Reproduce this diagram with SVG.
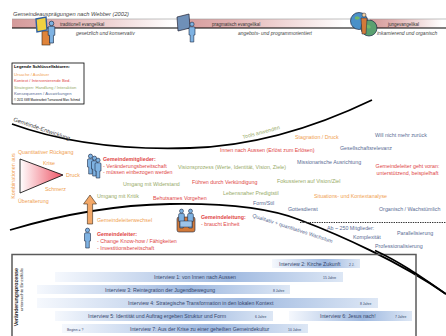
<svg xmlns="http://www.w3.org/2000/svg" width="446" height="336" viewBox="0 0 446 336">
<defs>
<style>
text{font-family:"Liberation Sans",Arial,sans-serif;}
.m{font-size:5.3px}
.o{fill:#f0a050}.r{fill:#e04646}.g{fill:#98ab68}.b{fill:#5a6c94}
.bd{font-weight:bold}
.it{font-style:italic;fill:#444}
.band{font-size:4.5px;fill:#333}
.lg{font-size:4.2px}
.iv{font-size:5.2px;fill:#34456b}
.yr{font-size:3.4px;fill:#34456b}
.bar{fill:url(#barG)}
.curve{fill:none;stroke:#000;stroke-width:1.8}
.pers{fill:#7eb2e2;stroke:#1c2a44;stroke-width:0.6}
</style>
<linearGradient id="barG" x1="0" y1="0" x2="1" y2="0">
<stop offset="0" stop-color="#f5f8fd"/><stop offset="0.6" stop-color="#9fb9e0"/><stop offset="1" stop-color="#dde7f5"/>
</linearGradient>
<linearGradient id="bandG" x1="0" y1="0" x2="1" y2="0">
<stop offset="0" stop-color="#d49a9a"/><stop offset="0.3" stop-color="#e2b2b2"/><stop offset="0.95" stop-color="#ffffff"/>
</linearGradient>
<linearGradient id="triG" x1="0" y1="0" x2="1" y2="0">
<stop offset="0" stop-color="#ffffff"/><stop offset="1" stop-color="#ee5566"/>
</linearGradient>
<g id="pp">
<circle cx="0" cy="2.2" r="2.1"/>
<path d="M-3,6 Q-3,4.8 -1.8,4.8 L1.8,4.8 Q3,4.8 3,6 L3,13 L1.8,13 L1.8,20 L-1.8,20 L-1.8,13 L-3,13 Z"/>
</g>
</defs>
<rect width="446" height="336" fill="#fff"/>

<!-- top band -->
<g id="band">
<text x="13" y="16" class="it" font-size="5.7">Gemeindeausprägungen nach Webber (2002)</text>
<rect x="12" y="19" width="168" height="9" fill="url(#bandG)"/>
<rect x="178" y="19" width="175" height="9" fill="url(#bandG)"/>
<rect x="370" y="19" width="76" height="9" fill="url(#bandG)"/>
<line x1="12" y1="19" x2="446" y2="19" stroke="#999" stroke-width="0.6"/>
<line x1="12" y1="28" x2="446" y2="28" stroke="#000" stroke-width="1.1"/>
<text x="60" y="25.5" class="band">traditionell evangelikal</text>
<text x="76" y="35" class="it" font-size="5">gesetzlich und konservativ</text>
<text x="212" y="25.5" class="band">pragmatisch evangelikal</text>
<text x="238" y="35" class="it" font-size="4.9">angebots- und programmorientiert</text>
<text x="388" y="25.5" class="band">jungevangelikal</text>
<text x="377" y="35" class="it" font-size="5">inkarnierend und organisch</text>
</g>
<g id="icon-traditionell">
<rect x="42" y="31" width="8" height="14" fill="#e0843a" stroke="#3a2a1a" stroke-width="0.6"/>
<polygon points="36,19 46,17 47,30 37,32" fill="#f0d040" stroke="#2f5fa0" stroke-width="1.4"/>
<use href="#pp" x="0" y="0" transform="translate(51.5,21) scale(1.1)" class="pers"/>
</g>
<g id="icon-pragmatisch">
<polygon points="177,17 189,14 190,28 178,31" fill="#6f90b8" stroke="#223" stroke-width="0.7"/>
<use href="#pp" transform="translate(192,22)" class="pers"/>
</g>
<g id="icon-jung">
<circle cx="359" cy="21" r="8.5" fill="#4a90c8" stroke="#1c2a44" stroke-width="0.7"/>
<circle cx="369" cy="28" r="8" fill="#5aa070" stroke="#1c2a44" stroke-width="0.7"/>
<path d="M355,17 q3,-2 5,1 q-2,3 -5,1z M366,25 q3,-1 5,2 q-2,3 -5,0z" fill="#6fb86a"/>
<circle cx="364" cy="15" r="2" fill="#f5d0a0" stroke="#1c2a44" stroke-width="0.5"/>
<path d="M361,18 h6 l-1,16 h-4 z" fill="#d27a3a" stroke="#1c2a44" stroke-width="0.5"/>
</g>

<!-- legend -->
<g id="legend">
<rect x="12" y="63" width="72" height="41" fill="#fff" stroke="#000" stroke-width="0.8"/>
<text x="14" y="68.3" class="lg bd" fill="#000">Legende Schlüsselfaktoren:</text>
<text x="14" y="75.5" class="lg o">Ursache / Auslöser</text>
<text x="14" y="82" class="lg r">Kontext / Intervenierende Bed.</text>
<text x="14" y="89" class="lg g">Strategien: Handlung / Interaktion</text>
<text x="14" y="95" class="lg b">Konsequenzen / Auswirkungen</text>
<text x="14" y="101.3" font-size="2.9" fill="#000">© 2011 IGW Masterarbeit Turnaround Marc Schmid</text>
</g>

<!-- curves -->
<g id="connectors">
<path class="curve" d="M12,124 C70,145 130,150 190,148 C260,146 320,125 372,100"/>
<path class="curve" d="M10,230 C60,215 110,205 170,204 C230,203 270,208 300,220 C340,235 400,262 446,294"/>
<line x1="300" y1="222.5" x2="446" y2="222.5" stroke="#333" stroke-width="1" stroke-dasharray="1.4,1"/>
</g>
<text transform="translate(13,121) rotate(19)" font-size="5.8" fill="#444">Gemeinde-Entwicklung</text>
<text transform="translate(243,139) rotate(-15)" class="m g">Tools anwenden</text>
<text transform="translate(252,217) rotate(18)" class="m b">Qualitativ + quantitatives Wachstum</text>

<!-- left: triangle -->
<g id="kombination">
<text transform="translate(15,176) rotate(-90)" text-anchor="middle" class="m o">Kombinationen aus</text>
<polygon points="20,159 20,193 63,175" fill="url(#triG)" stroke="#000" stroke-width="0.8"/>
<text x="18" y="154" class="m o">Quantitativer Rückgang</text>
<text x="43" y="165" class="m o">Krise</text>
<text x="66" y="177" class="m o">Druck</text>
<text x="45" y="191" class="m o">Schmerz</text>
<text x="18" y="203" class="m o">Überalterung</text>
</g>

<g id="gemeindemitglieder">
<use href="#pp" transform="translate(90.5,154)" class="pers"/>
<use href="#pp" transform="translate(94.5,156)" class="pers"/>
<use href="#pp" transform="translate(98,158)" class="pers"/>
<text x="103" y="161" class="m r bd">Gemeindemitglieder:</text>
<text x="103" y="167.5" class="m r">- Veränderungsbereitschaft</text>
<text x="103" y="174" class="m r">- müssen einbezogen werden</text>
</g>

<g id="wechsel">
<polygon points="90,195 96.5,204 92.6,204 92.6,224 87.4,224 87.4,204 83.5,204" fill="#f3a868" stroke="#3a2a1a" stroke-width="0.6"/>
<text x="97" y="222" class="m o">Gemeindeleiterwechsel</text>
</g>

<g id="gemeindeleiter">
<use href="#pp" transform="translate(87.5,228)" class="pers"/>
<text x="97" y="236" class="m r bd">Gemeindeleiter:</text>
<text x="97" y="243" class="m r">- Change Know-how / Fähigkeiten</text>
<text x="97" y="250" class="m r">- Investitionsbereitschaft</text>
</g>

<g id="gemeindeleitung">
<rect x="177" y="217" width="18" height="15" rx="2" fill="#d27a3a" stroke="#1c2a44" stroke-width="0.6"/>
<use href="#pp" transform="translate(181.5,209) scale(0.95)" class="pers"/>
<use href="#pp" transform="translate(190.5,209) scale(0.95)" class="pers"/>
<rect x="180" y="221" width="12" height="6" fill="#9cc4ea" stroke="#1c2a44" stroke-width="0.5"/>
<text x="201" y="219" class="m r bd">Gemeindeleitung:</text>
<text x="201" y="226" class="m r">- braucht Einheit</text>
</g>

<!-- factor texts -->
<g id="factors" class="m">
<text x="295" y="139" class="o">Stagnation / Druck</text>
<text x="375" y="137" class="b">Will nicht mehr zurück</text>
<text x="220" y="152" class="r">Innen nach Aussen (Erlöst zum Erlösen)</text>
<text x="340" y="150" class="b">Gesellschaftsrelevanz</text>
<text x="297" y="164" class="b">Missionarische Ausrichtung</text>
<text x="178" y="169" class="g">Visionsprozess (Werte, Identität, Vision, Ziele)</text>
<text x="407.5" y="168" text-anchor="middle" class="r">Gemeindeleiter geht voran:</text>
<text x="407.5" y="175" text-anchor="middle" class="r">unterstützend, beispielhaft</text>
<text x="192" y="184" class="r">Führen durch Verkündigung</text>
<text x="277" y="183" class="g">Fokussieren auf Vision/Ziel</text>
<text x="123" y="186" class="g">Umgang mit Widerstand</text>
<text x="97" y="198" class="g">Umgang mit Kritik</text>
<text x="223" y="195" class="g">Lebensnaher Predigtstil</text>
<text x="153" y="200" class="r">Behutsames Vorgehen</text>
<text x="314" y="198" class="o">Situations- und Kontextanalyse</text>
<text x="253" y="205" class="b">Form/Stil</text>
<text x="288" y="211" class="b">Gottesdienst</text>
<text x="379" y="211" class="b">Organisch / Wachstümlich</text>
<text x="327" y="230" class="b">Ab ~ 250 Mitglieder:</text>
<text x="353" y="239" class="b">Komplexität</text>
<text x="397" y="235" class="b">Parallelisierung</text>
<text x="375" y="248" class="b">Professionalisierung</text>
</g>

<!-- interviews box -->
<g id="interviews">
<rect x="12" y="254.5" width="404" height="90" fill="none" stroke="#5a5a5a" stroke-width="1.5"/>
<text transform="translate(18.3,268) rotate(-90)" text-anchor="end" font-size="5.3" font-weight="bold" fill="#222">Veränderungsprozesse</text>
<text transform="translate(23.3,268) rotate(-90)" text-anchor="end" font-size="4.3" fill="#333">untersuchte Einzelfälle</text>

<rect class="bar" x="272" y="259" width="88" height="9"/>
<text x="279" y="265.5" class="iv">Interview 2: Kirche Zukunft</text><text x="349" y="265.5" class="yr">2 J.</text>

<rect class="bar" x="55" y="272" width="288" height="10"/>
<text x="154" y="279" class="iv">Interview 1: von Innen nach Aussen</text><text x="323" y="279" class="yr">15 Jahre</text>

<rect class="bar" x="37" y="285" width="253" height="9"/>
<text x="105" y="291.5" class="iv">Interview 3: Reintegration der Jugendbewegung</text><text x="273" y="291.5" class="yr">8 Jahre</text>

<rect class="bar" x="37" y="298" width="341" height="10"/>
<text x="128" y="304.8" class="iv">Interview 4: Strategische Transformation in den lokalen Kontext</text><text x="360" y="304.8" class="yr">8 Jahre</text>

<rect class="bar" x="55" y="311" width="218" height="10"/>
<text x="88" y="317.8" class="iv">Interview 5: Identität und Auftrag ergeben Struktur und Form</text><text x="255" y="317.8" class="yr">6 Jahre</text>

<rect class="bar" x="289" y="311" width="123" height="10"/>
<text x="320" y="317.8" class="iv">Interview 6: Jesus nach!</text><text x="395" y="317.8" class="yr">7 Jahre</text>

<rect class="bar" x="62" y="324" width="246" height="9"/>
<text x="67" y="330.5" class="yr">Beginn = ?</text>
<text x="130" y="330.5" class="iv">Interview 7: Aus der Krise zu einer geheilten Gemeindekultur</text><text x="288" y="330.5" class="yr">10 Jahre</text>
</g>
<path class="curve" d="M375,250.5 C400,262 420,276 446,294"/>
</svg>
